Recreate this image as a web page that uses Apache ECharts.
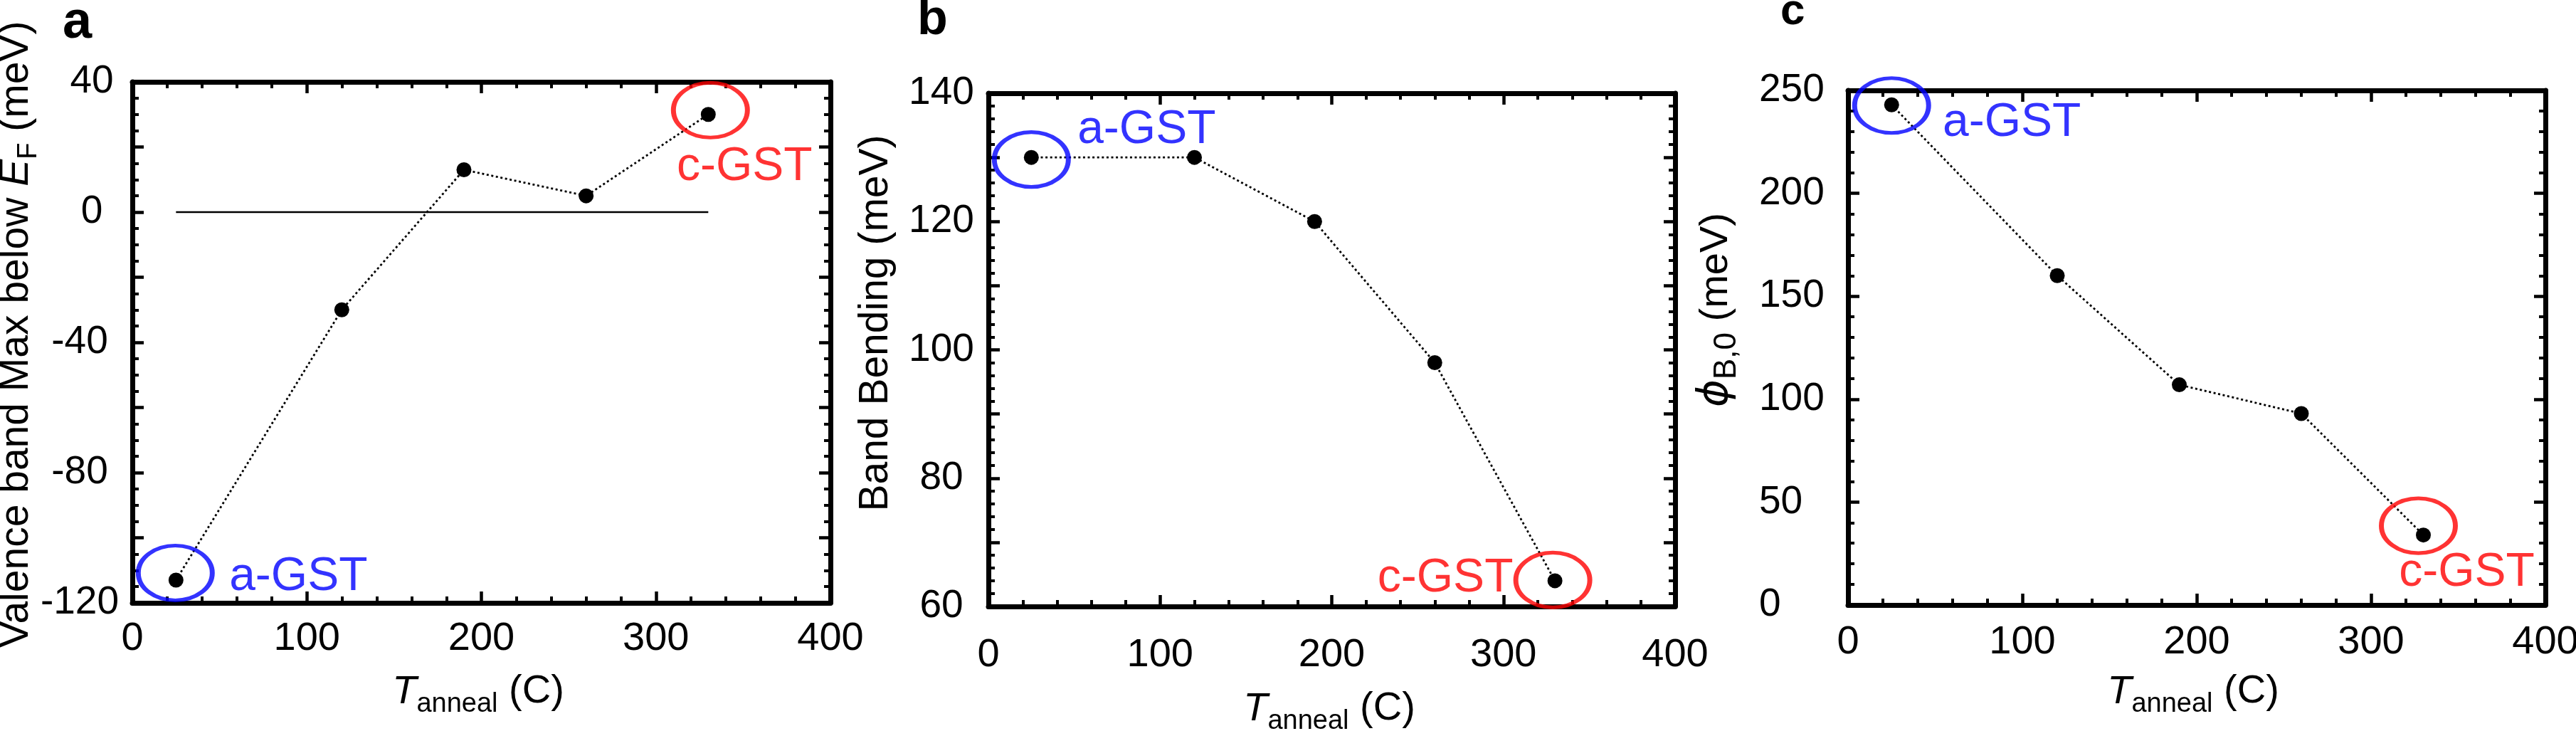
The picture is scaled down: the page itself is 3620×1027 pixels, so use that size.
<!DOCTYPE html>
<html>
<head>
<meta charset="utf-8">
<script src="https://cdn.jsdelivr.net/npm/echarts@6/dist/echarts.min.js"></script>
<style>
html,body{margin:0;padding:0;background:#ffffff;}
#chart{width:3620px;height:1027px;}
</style>
</head>
<body>
<div id="chart"></div>
<script>
// ---------- data ----------
const tAnneal      = [25, 120, 190, 260, 330];        // T_anneal (C)
const vbmBelowEF   = [-113, -30, 13, 5, 30];          // panel a (meV)
const bandBending  = [130, 130, 120, 98, 64];         // panel b (meV)
const phiB0        = [243, 160, 107, 93, 34];         // panel c (meV)
const zeroLineT    = [25, 330];                       // horizontal reference line at 0 in panel a
const xTickLabels  = [0, 100, 200, 300, 400];
const yTickLabelsA = [-120, -80, -40, 0, 40];
const yTickLabelsB = [60, 80, 100, 120, 140];
const yTickLabelsC = [0, 50, 100, 150, 200, 250];
const phaseNames   = ['a-GST', 'c-GST'];

const FONT = '"Liberation Sans", Arial, Helvetica, sans-serif';
const GREEK_FONT = '"DejaVu Sans", "Liberation Sans", sans-serif';
const BLUE = '#0000ff';
const RED  = '#ff0000';

function pairs(xs, ys) { return xs.map((x, i) => [x, ys[i]]); }

const panels = [
  { grid: {left: 186, top: 115, width: 981, height: 732},
    ymin: -120, ymax: 40, yint: 20, ysplit: 4, ylabels: yTickLabelsA, ys: vbmBelowEF,
    xMargin: 23, yAlign: 'center', yMargin: 57, negPad: 34,
    ell: [ {off: [-1, -10], lab: [173, 6]}, {off: [3, -6], lab: [48, 80]} ] },
  { grid: {left: 1389, top: 131, width: 965, height: 721},
    ymin: 60, ymax: 140, yint: 10, ysplit: 5, ylabels: yTickLabelsB, ys: bandBending,
    xMargin: 41, yAlign: 'center', yMargin: 66, negPad: 0,
    ell: [ {off: [0, 3], lab: [162, -41]}, {off: [-3, -1], lab: [-151, -2]} ] },
  { grid: {left: 2597, top: 127, width: 980, height: 723},
    ymin: 0, ymax: 250, yint: 50, ysplit: 5, ylabels: yTickLabelsC, ys: phiB0,
    xMargin: 25, yAlign: 'left', yMargin: 125, negPad: 0,
    ell: [ {off: [0, 1], lab: [169, 25]}, {off: [-7, -13], lab: [68, 66]} ] }
];

function axisBase(min, max, interval, split) {
  return {
    type: 'value', min: min, max: max, interval: interval,
    axisLine: {show: true, onZero: false, lineStyle: {color: '#000', width: 7}},
    axisTick: {show: true, inside: true, length: 16, lineStyle: {color: '#000', width: 4.5}},
    minorTick: {show: true, splitNumber: split, length: 9, lineStyle: {color: '#000', width: 4}},
    splitLine: {show: false},
    minorSplitLine: {show: false}
  };
}

const grids = [], xAxes = [], yAxes = [], series = [];

panels.forEach((p, i) => {
  grids.push(Object.assign({outerBoundsMode: 'none', containLabel: false}, p.grid));

  const xb = axisBase(0, 400, 100, 5);
  xb.gridIndex = i; xb.position = 'bottom';
  xb.axisLabel = {show: true, margin: p.xMargin, fontSize: 56, fontFamily: FONT, color: '#000',
                  showMinLabel: true, showMaxLabel: true,
                  formatter: v => xTickLabels.includes(v) ? String(v) : ''};
  const xt = axisBase(0, 400, 100, 5);
  xt.gridIndex = i; xt.position = 'top'; xt.axisLabel = {show: false};
  xAxes.push(xb, xt);

  const yl = axisBase(p.ymin, p.ymax, p.yint, p.ysplit);
  yl.gridIndex = i; yl.position = 'left';
  yl.axisLabel = {show: true, margin: p.yMargin, align: p.yAlign, fontSize: 55, fontFamily: FONT, color: '#000',
                  showMinLabel: true, showMaxLabel: true,
                  formatter: v => {
                    if (!p.ylabels.includes(v)) return '';
                    return (v < 0 && p.negPad) ? '{neg|' + v + '}' : String(v);
                  },
                  rich: {neg: {fontSize: 55, fontFamily: FONT, color: '#000', padding: [0, p.negPad, 0, 0]}}};
  const yr = axisBase(p.ymin, p.ymax, p.yint, p.ysplit);
  yr.gridIndex = i; yr.position = 'right'; yr.axisLabel = {show: false};
  yAxes.push(yl, yr);

  // dotted data line with filled markers
  series.push({
    type: 'line', xAxisIndex: 2 * i, yAxisIndex: 2 * i,
    data: pairs(tAnneal, p.ys),
    symbol: 'circle', symbolSize: 21, showSymbol: true,
    itemStyle: {color: '#000'},
    lineStyle: {color: '#000', width: 2.8, type: [3, 3.6]},
    silent: true, z: 2, animation: false
  });

  // highlight ellipses around first (amorphous) and last (crystalline) points
  const last = tAnneal.length - 1;
  const ends = [0, last];
  series.push({
    type: 'scatter', xAxisIndex: 2 * i, yAxisIndex: 2 * i,
    symbol: 'circle', symbolSize: [104, 77],
    itemStyle: {color: 'rgba(0,0,0,0)', borderWidth: 6},
    label: {show: true, position: 'inside', fontSize: 66, fontFamily: FONT, align: 'center', verticalAlign: 'middle'},
    data: ends.map((k, j) => ({
      value: [tAnneal[k], p.ys[k]],
      symbolOffset: p.ell[j].off,
      itemStyle: {borderColor: j === 0 ? BLUE : RED, color: 'rgba(0,0,0,0)', borderWidth: 6},
      label: {formatter: phaseNames[j], color: j === 0 ? BLUE : RED, offset: p.ell[j].lab}
    })),
    silent: true, z: 3, animation: false
  });
});

// solid zero line in panel a
series.push({
  type: 'line', xAxisIndex: 0, yAxisIndex: 0,
  data: zeroLineT.map(t => [t, 0]),
  symbol: 'none', lineStyle: {color: '#000', width: 2.7, type: 'solid'},
  silent: true, z: 1, animation: false
});

const subRich = (fs, subFs) => ({
  it:  {fontStyle: 'italic', fontSize: fs, fontFamily: FONT, lineHeight: 74, fill: '#000'},
  gr:  {fontStyle: 'italic', fontSize: fs + 3, fontFamily: GREEK_FONT, lineHeight: 74, fill: '#000'},
  sub: {fontSize: subFs, fontFamily: FONT, lineHeight: subFs, verticalAlign: 'bottom', fill: '#000'}
});

function titleText(x, y, text, rot, fs, align, subFs) {
  return {
    type: 'text', x: x, y: y, rotation: rot, silent: true,
    style: {text: text, fontSize: fs, fontFamily: FONT, fill: '#000', align: align || 'center', verticalAlign: 'middle',
            lineHeight: 74, rich: subRich(fs, subFs || 38)}
  };
}
function letter(x, y, t, fs) {
  return {type: 'text', x: x, y: y, silent: true,
          style: {text: t, fontSize: fs, fontWeight: 'bold', fontFamily: FONT, fill: '#000', align: 'left', verticalAlign: 'middle'}};
}

const graphics = [
  letter(88, 33, 'a', 74),
  letter(1289, 29, 'b', 70),
  letter(2502, 17, 'c', 62),
  titleText(23, 470, 'Valence band Max below {it|E}{sub|F} (meV)', Math.PI / 2, 57),
  titleText(1231, 454, 'Band Bending (meV)', Math.PI / 2, 57),
  titleText(2412, 572, '{gr|ϕ}{sub|B,0} (meV)', Math.PI / 2, 56, 'left', 44),
  titleText(672, 972, '{it|T}{sub|anneal} (C)', 0, 56),
  titleText(1868, 996, '{it|T}{sub|anneal} (C)', 0, 56),
  titleText(3082, 972, '{it|T}{sub|anneal} (C)', 0, 56)
];

const chart = echarts.init(document.getElementById('chart'), null, {renderer: 'canvas', width: 3620, height: 1027});
chart.setOption({
  animation: false,
  backgroundColor: '#ffffff',
  grid: grids,
  xAxis: xAxes,
  yAxis: yAxes,
  series: series,
  graphic: graphics
});
</script>
</body>
</html>
